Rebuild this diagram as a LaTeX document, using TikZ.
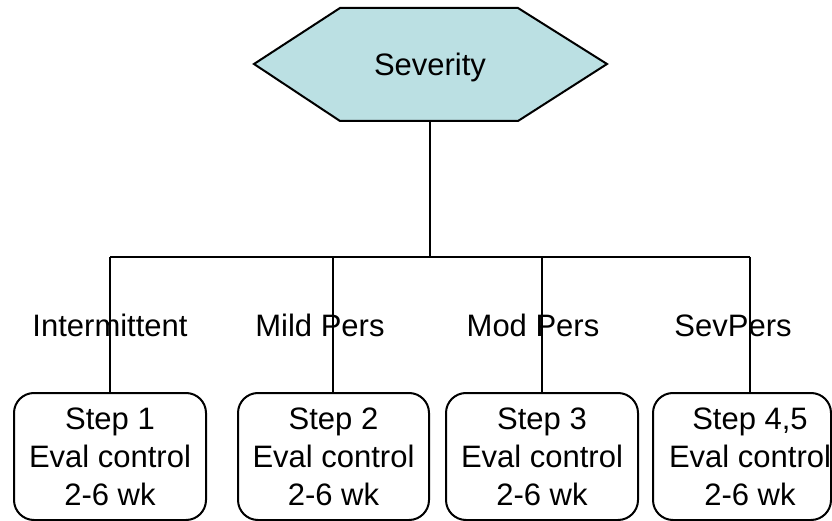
\documentclass[tikz,border=0pt]{standalone}
\usepackage{fontspec}
\setmainfont{Liberation Sans}
\definecolor{hexfill}{RGB}{187,224,227}
\begin{document}
\begin{tikzpicture}[x=1pt,y=-1pt,line width=2pt,
  lbl/.style={font=\fontsize{31}{38}\selectfont,anchor=base,inner sep=0pt},
  stepbox/.style={draw,rounded corners=20pt,minimum height=127pt,inner sep=0pt},
  steptext/.style={font=\fontsize{31}{38}\selectfont,align=center,inner sep=0pt}]
\useasboundingbox (0,0) rectangle (832,521);
% hexagon
\draw[fill=hexfill] (254,64) -- (340,8) -- (518,8) -- (607,64) -- (518,121) -- (340,121) -- cycle;
\node[lbl] (sev) at (430,76) {Severity};
\coordinate (hexbot) at (430,121);
\coordinate (bus) at (430,257);
\coordinate (j1) at (110,257);
\coordinate (j2) at (333,257);
\coordinate (j3) at (542,257);
\coordinate (j4) at (750,257);
% boxes
\node[stepbox,minimum width=192pt] (b1) at (110,456.5) {};
\node[stepbox,minimum width=191pt] (b2) at (333.5,456.5) {};
\node[stepbox,minimum width=192pt] (b3) at (542,456.5) {};
\node[stepbox,minimum width=178pt] (b4) at (742,456.5) {};
\node[steptext] (t1) at (110,456.75) {Step 1\\Eval control\\2-6 wk};
\node[steptext] (t2) at (333.5,456.75) {Step 2\\Eval control\\2-6 wk};
\node[steptext] (t3) at (542,456.75) {Step 3\\Eval control\\2-6 wk};
\node[steptext] (t4) at (750,456.75) {Step 4,5\\Eval control\\2-6 wk};
% connectors
\draw (hexbot) -- (bus);
\draw (j1) -- (j4);
\draw (j1) -- (j1 |- b1.north);
\draw (j2) -- (j2 |- b2.north);
\draw (j3) -- (j3 |- b3.north);
\draw (j4) -- (j4 |- b4.north);
% labels
\node[lbl] (l1) at (110,336) {Intermittent};
\node[lbl] (l2) at (320,336) {Mild Pers};
\node[lbl] (l3) at (533,336) {Mod Pers};
\node[lbl] (l4) at (733,336) {SevPers};
\end{tikzpicture}
\end{document}
